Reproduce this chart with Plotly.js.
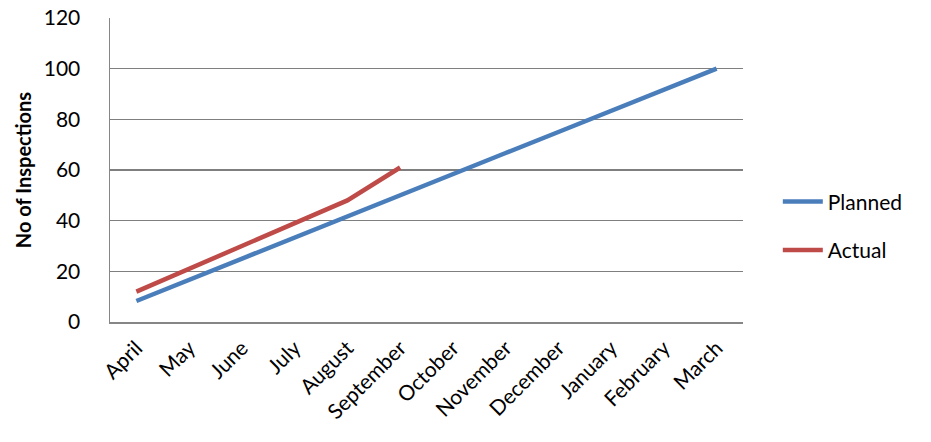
<!DOCTYPE html>
<html>
<head>
<meta charset="utf-8">
<script src="https://cdn.plot.ly/plotly-3.0.1.min.js"></script>
<style>html,body{margin:0;padding:0;background:#fff;}#chart{width:931px;height:442px;}</style>
</head>
<body>
<div id="chart"></div>
<script>
const months = ["April","May","June","July","August","September","October","November","December","January","February","March"];
const planned = [8.3, 16.7, 25, 33.3, 41.7, 50, 58.3, 66.7, 75, 83.3, 91.7, 100];
const actualMonths = ["April","May","June","July","August","September"];
const actual = [12, 21, 30, 39, 48, 61];
const yTicks = [0, 20, 40, 60, 80, 100, 120];

const font = "Lato, 'Open Sans', 'Liberation Sans', sans-serif";

const traces = [
  {x: months, y: planned, name: "Planned", type: "scatter", mode: "lines", legendgroup: "p",
   line: {color: "#4a7ebb", width: 4.5}},
  {x: actualMonths, y: actual, name: "Actual", type: "scatter", mode: "lines", legendgroup: "a",
   line: {color: "#be4b48", width: 4.5}}
];

const layout = {
  width: 931, height: 442,
  margin: {l: 110, r: 188, t: 18, b: 120},
  paper_bgcolor: "#fff", plot_bgcolor: "#fff",
  font: {family: font, size: 21, color: "#000"},
  showlegend: true,
  legend: {x: 1.055, y: 0.316, yanchor: "middle", xanchor: "left",
           font: {family: font, size: 21, color: "#000"}, tracegroupgap: 18, itemwidth: 40},
  xaxis: {
    type: "category", categoryarray: months, categoryorder: "array",
    range: [-0.5, 11.5], tickangle: -45, showgrid: false,
    showline: true, linecolor: "#868686", linewidth: 1.5,
    ticks: "", ticklabelstandoff: 4,
    tickfont: {family: font, size: 21, color: "#000"}, zeroline: false
  },
  yaxis: {
    range: [0, 120], tickvals: yTicks, ticktext: yTicks.map(String),
    showgrid: true, gridcolor: "#7f7f7f", gridwidth: 1.5,
    showline: true, linecolor: "#868686", linewidth: 1.5,
    ticks: "", ticklabelstandoff: 24, zeroline: false,
    tickfont: {family: font, size: 21, color: "#000"},
    title: {text: "<b>No of Inspections</b>", font: {family: font, size: 20, color: "#000"}, standoff: 7}
  }
};

Plotly.newPlot("chart", traces, layout, {displayModeBar: false, staticPlot: true});
</script>
</body>
</html>
